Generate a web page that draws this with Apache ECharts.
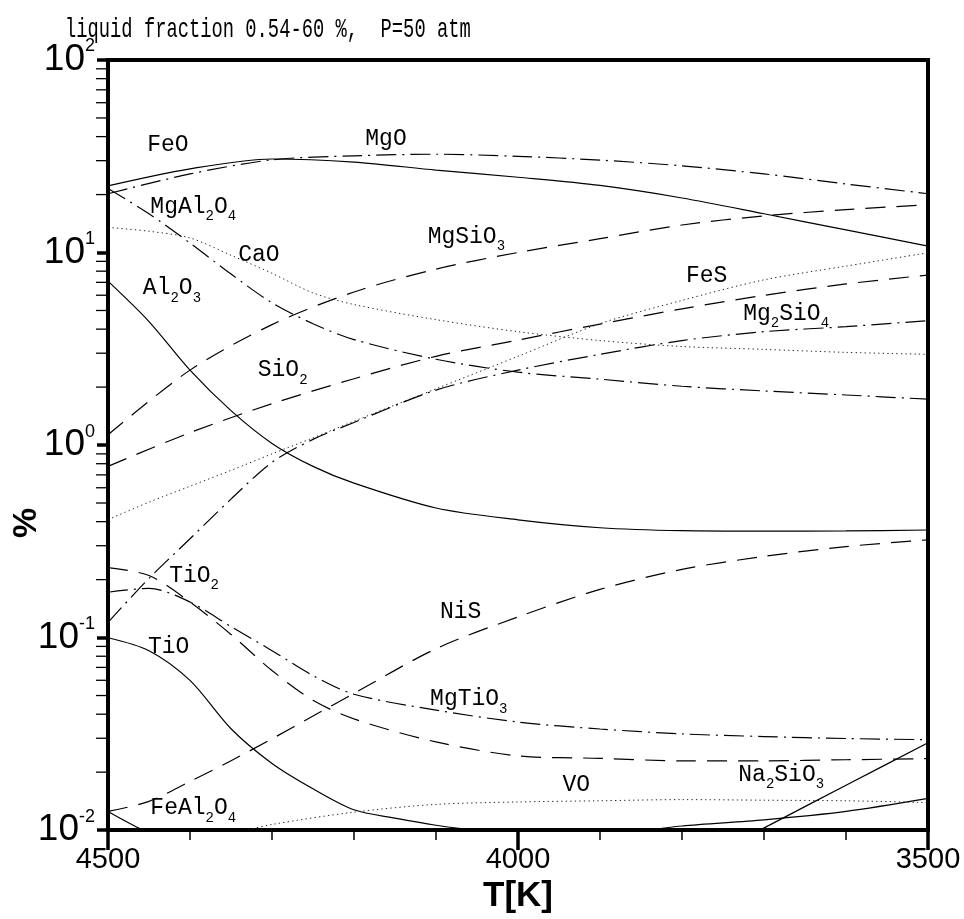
<!DOCTYPE html>
<html><head><meta charset="utf-8">
<script src="https://cdn.jsdelivr.net/npm/echarts@6/dist/echarts.min.js"></script>
<style>html,body{margin:0;padding:0;background:#fff}#c{width:964px;height:919px}</style>
</head><body><div id="c"></div>
<script>
// ---------- data ----------
const T_main = [4500, 4400, 4300, 4200, 4100, 4000, 3900, 3800, 3700, 3600, 3500];
const T_fine = [4500, 4450, 4400, 4350, 4300, 4250, 4200, 4100, 4000, 3900, 3800, 3700, 3600, 3500];
const T_TiO  = [4500, 4450, 4400, 4350, 4300, 4250, 4200, 4150, 4100, 4050, 4000, 3900, 3850, 3800, 3700, 3600, 3500];
const T_VO   = [4350, 4330, 4300, 4200, 4100, 4000, 3900, 3800, 3700, 3600, 3500];
const T_FeAl2O4 = [4500, 4457, 4440];
const T_Na2SiO3 = [3705, 3600, 3500];

const FeO     = [22.2, 27.2, 30.6, 29.5, 26.8, 24.6, 22.3, 19.2, 15.9, 13.1, 10.8];
const MgO     = [20.2, 25.6, 30.3, 31.8, 32.4, 31.6, 30.2, 28.2, 25.6, 22.7, 20.2];
const MgSiO3  = [1.13, 2.45, 4.22, 6.24, 8.2, 10.0, 11.8, 13.9, 15.5, 16.7, 17.7];
const SiO2    = [0.775, 1.16, 1.64, 2.21, 2.89, 3.51, 4.25, 5.10, 5.99, 6.87, 7.64];
const CaO     = [13.5, 12.9, 11.9, 9.68, 7.8, 6.17, 5.37, 4.48, 3.88, 3.49, 3.25, 3.14, 3.03, 2.96];
const MgAl2O4 = [21.5, 15.9, 11.2, 7.73, 5.48, 4.27, 3.53, 2.79, 2.39, 2.20, 2.02, 1.91, 1.82, 1.73];
const Al2O3   = [7.1, 4.38, 2.45, 1.51, 1.02, 0.775, 0.634, 0.471, 0.409, 0.372, 0.359, 0.357, 0.358, 0.362];
const FeS     = [0.41, 0.505, 0.611, 0.739, 0.90, 1.09, 1.33, 1.96, 2.89, 4.27, 5.64, 7.21, 8.5, 9.97];
const Mg2SiO4 = [0.12, 0.203, 0.326, 0.524, 0.813, 1.07, 1.31, 1.93, 2.45, 2.96, 3.49, 3.88, 4.12, 4.43];
const TiO2    = [0.231, 0.210, 0.153, 0.1038, 0.0674, 0.0472, 0.0378, 0.0287, 0.0243, 0.0236, 0.0229, 0.0229, 0.0232, 0.0235];
const MgTiO3  = [0.172, 0.180, 0.153, 0.114, 0.0855, 0.0635, 0.0508, 0.042, 0.0364, 0.0335, 0.0316, 0.0306, 0.0299, 0.0295];
const NiS     = [0.0125, 0.0141, 0.0179, 0.0229, 0.0298, 0.0391, 0.0513, 0.0875, 0.128, 0.178, 0.226, 0.264, 0.297, 0.322];
const TiO     = [0.0998, 0.0855, 0.0599, 0.0336, 0.0222, 0.0164, 0.01275, 0.01153, 0.0106, 0.0100, 0.0098, 0.0097, 0.0099, 0.0105, 0.0113, 0.0125, 0.0146];
const VO      = [0.0094, 0.0100, 0.0107, 0.0124, 0.0136, 0.0140, 0.0142, 0.0144, 0.0143, 0.0142, 0.0139];
const FeAl2O4 = [0.0125, 0.0100, 0.0096];
const Na2SiO3 = [0.0100, 0.0171, 0.0284];

const yMinorTicks = [0.02,0.03,0.04,0.05,0.06,0.07,0.08,0.09, 0.2,0.3,0.4,0.5,0.6,0.7,0.8,0.9,
                     2,3,4,5,6,7,8,9, 20,30,40,50,60,70,80,90];
const titleText = 'liquid fraction 0.54-60 %,  P=50 atm';
const curveLabels = [
  ['FeO', 4427, 36.1], ['MgO', 4161, 38.7], ['MgAl2O4', 4396, 17.3], ['CaO', 4316, 9.73],
  ['Al2O3', 4422, 6.55], ['SiO2', 4287, 2.45], ['MgSiO3', 4063, 12.1], ['FeS', 3770, 7.59],
  ['Mg2SiO4', 3673, 4.81], ['TiO2', 4395, 0.210], ['TiO', 4426, 0.0896], ['NiS', 4070, 0.136],
  ['MgTiO3', 4060, 0.0478], ['VO', 3929, 0.0171], ['Na2SiO3', 3679, 0.0194], ['FeAl2O4', 4396, 0.0130]
];

// ---------- styles ----------
const ST = {
  solid:   {type: 'solid', width: 1.2, color: '#000'},
  longDash:{type: [20, 11], width: 1.2, color: '#000'},
  dashDot: {type: [20, 6, 2, 6], width: 1.2, color: '#000'},
  dot:     {type: [1.3, 3.2], width: 1, color: '#222'}
};
const zip = (T, V) => T.map((t, i) => [t, V[i]]);
function line(name, T, V, st) {
  return {name, type: 'line', data: zip(T, V), showSymbol: false, symbol: 'none',
          smooth: 0.3, clip: true, lineStyle: ST[st], silent: true};
}

const series = [
  line('FeO', T_main, FeO, 'solid'),
  line('MgO', T_main, MgO, 'dashDot'),
  line('MgSiO3', T_main, MgSiO3, 'longDash'),
  line('SiO2', T_main, SiO2, 'longDash'),
  line('CaO', T_fine, CaO, 'dot'),
  line('MgAl2O4', T_fine, MgAl2O4, 'dashDot'),
  line('Al2O3', T_fine, Al2O3, 'solid'),
  line('FeS', T_fine, FeS, 'dot'),
  line('Mg2SiO4', T_fine, Mg2SiO4, 'dashDot'),
  line('TiO2', T_fine, TiO2, 'longDash'),
  line('MgTiO3', T_fine, MgTiO3, 'dashDot'),
  line('NiS', T_fine, NiS, 'longDash'),
  line('TiO', T_TiO, TiO, 'solid'),
  line('VO', T_VO, VO, 'dot'),
  line('FeAl2O4', T_FeAl2O4, FeAl2O4, 'solid'),
  line('Na2SiO3', T_Na2SiO3, Na2SiO3, 'solid'),
  {
    type: 'custom', coordinateSystem: 'cartesian2d', clip: false, silent: true,
    data: yMinorTicks.map(v => [4500, v]),
    renderItem: (params, api) => {
      const p = api.coord([api.value(0), api.value(1)]);
      return {type: 'line', shape: {x1: p[0] - 12, y1: p[1], x2: p[0] - 2, y2: p[1]},
              style: {stroke: '#000', lineWidth: 1.3}};
    }
  }
];

const chart = echarts.init(document.getElementById('c'), null, {renderer: 'canvas'});
chart.setOption({
  animation: false,
  backgroundColor: '#fff',
  grid: {left: 108, right: 36, top: 60, bottom: 82, show: true, borderColor: '#000', borderWidth: 4,
         backgroundColor: 'transparent'},
  xAxis: {
    type: 'value', min: 3500, max: 4500, interval: 500, inverse: true,
    axisLine: {show: true, onZero: false, lineStyle: {color: '#000', width: 4}},
    axisTick: {show: true, length: 20, lineStyle: {color: '#000', width: 3.5}},
    minorTick: {show: true, splitNumber: 5, length: 10, lineStyle: {color: '#000', width: 1.5}},
    splitLine: {show: false},
    axisLabel: {show: true, margin: 15, color: '#000', fontSize: 29, fontFamily: 'Liberation Sans',
                formatter: v => String(v), showMinLabel: true, showMaxLabel: true},
    name: 'T[K]', nameLocation: 'middle', nameGap: 45,
    nameTextStyle: {color: '#000', fontSize: 35, fontWeight: 'bold', fontFamily: 'Liberation Sans'}
  },
  yAxis: {
    type: 'log', logBase: 10, min: 0.01, max: 100,
    axisLine: {show: true, onZero: false, lineStyle: {color: '#000', width: 4}},
    axisTick: {show: true, length: 11, lineStyle: {color: '#000', width: 3.5}},
    splitLine: {show: false},
    axisLabel: {
      show: true, margin: 13, color: '#000',
      formatter: v => '{a|10}{b|' + Math.round(Math.log10(v)) + '}',
      rich: {
        a: {fontSize: 37, lineHeight: 45, fontFamily: 'Liberation Sans', color: '#000'},
        b: {fontSize: 18, lineHeight: 18, fontFamily: 'Liberation Sans', color: '#000', verticalAlign: 'top'}
      }
    }
  },
  series
});

function richName(n) {
  return n.replace(/(\D+)|(\d+)/g, (m, a, d) => a ? '{m|' + a + '}' : '{s|' + d + '}');
}
const graphics = [
  {type: 'text', x: 65, y: 30, scaleY: 1.5, originX: 0, originY: 0,
   style: {text: titleText, font: '18.8px "Liberation Mono"', fill: '#000', align: 'left', verticalAlign: 'middle'}},
  {type: 'text', x: 27, y: 523, rotation: Math.PI / 2,
   style: {text: '%', font: 'bold 34px "Liberation Sans"', fill: '#000', align: 'center', verticalAlign: 'middle'}}
];
curveLabels.forEach(([n, t, v]) => {
  const p = chart.convertToPixel({gridIndex: 0}, [t, v]);
  graphics.push({
    type: 'text', x: p[0], y: p[1], silent: true,
    style: {
      text: richName(n), align: 'center', verticalAlign: 'middle', fill: '#000',
      rich: {
        m: {font: '23px "Liberation Mono"', lineHeight: 34, fill: '#000'},
        s: {font: '14px "Liberation Mono"', lineHeight: 14, verticalAlign: 'bottom', fill: '#000'}
      }
    }
  });
});
chart.setOption({graphic: graphics});
</script></body></html>
